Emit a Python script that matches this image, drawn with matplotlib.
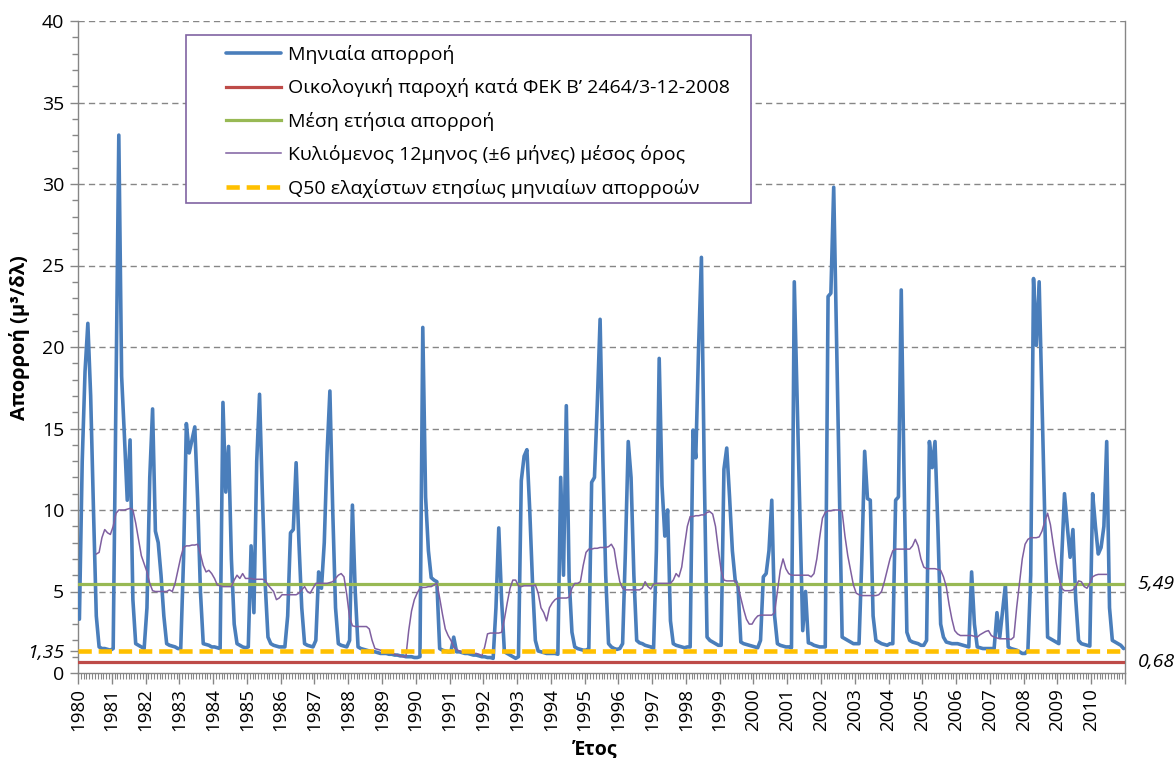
import numpy as np
import matplotlib
matplotlib.use("Agg")
import matplotlib.pyplot as plt
from matplotlib.patches import Rectangle
from matplotlib.ticker import MultipleLocator

plt.rcParams['font.family'] = ['Open Sans', 'DejaVu Sans']

# ---------------- data ----------------
years = list(range(1980, 2011))

# monthly runoff (m3/s), 12 values per year, 1980 ... 2010
monthly_runoff = [
    3.3, 13, 18.5, 21.45, 17, 10, 3.5, 1.6, 1.5, 1.5, 1.45, 1.4,          # 1980
    1.5, 17, 33, 18.2, 14.5, 10.6, 14.3, 4.5, 1.8, 1.7, 1.6, 1.5,         # 1981
    4, 12, 16.2, 8.7, 8.0, 6.0, 3.5, 1.8, 1.7, 1.65, 1.6, 1.5,            # 1982
    1.5, 7, 15.3, 13.5, 14.3, 15.1, 10.7, 5, 1.8, 1.75, 1.7, 1.6,         # 1983
    1.6, 1.55, 1.5, 16.6, 11.1, 13.9, 7, 3, 1.8, 1.7, 1.6, 1.55,          # 1984
    1.6, 7.8, 3.7, 13, 17.1, 11, 5.5, 2.2, 1.8, 1.7, 1.65, 1.6,           # 1985
    1.6, 1.6, 3.5, 8.6, 8.8, 12.9, 8, 4, 1.8, 1.7, 1.65, 1.6,             # 1986
    2.0, 6.2, 5.2, 8, 13.5, 17.3, 10, 4, 1.8, 1.7, 1.65, 1.6,             # 1987
    2.0, 10.3, 5.0, 1.6, 1.5, 1.45, 1.4, 1.35, 1.3, 1.3, 1.25, 1.2,       # 1988
    1.2, 1.2, 1.15, 1.15, 1.1, 1.1, 1.05, 1.05, 1.0, 1.0, 1.0, 0.95,      # 1989
    0.95, 1.0, 21.2, 10.8, 7.5, 5.85, 5.7, 5.6, 1.5, 1.4, 1.35, 1.3,      # 1990
    1.3, 2.2, 1.3, 1.3, 1.25, 1.2, 1.2, 1.15, 1.1, 1.1, 1.05, 1.0,        # 1991
    1.0, 0.95, 0.95, 0.9, 4, 8.9, 4.5, 1.3, 1.2, 1.1, 1.0, 0.9,           # 1992
    1.0, 11.8, 13.3, 13.7, 10, 5.5, 2.0, 1.35, 1.3, 1.25, 1.2, 1.2,       # 1993
    1.2, 1.2, 1.15, 12, 6, 16.4, 5.8, 2.5, 1.6, 1.5, 1.45, 1.4,           # 1994
    1.4, 1.5, 11.7, 12.0, 16.5, 21.7, 13, 6, 1.8, 1.6, 1.5, 1.45,         # 1995
    1.5, 1.8, 7.5, 14.2, 12, 6, 2.0, 1.85, 1.8, 1.7, 1.65, 1.6,           # 1996
    1.5, 7.5, 19.3, 11.5, 8.4, 10, 3.2, 1.8, 1.7, 1.65, 1.6, 1.55,        # 1997
    1.6, 1.6, 14.9, 13.2, 20, 25.5, 12.5, 2.2, 2.0, 1.9, 1.8, 1.7,        # 1998
    1.7, 12.5, 13.8, 10.8, 7.5, 5.7, 5.3, 1.9, 1.8, 1.75, 1.7, 1.65,      # 1999
    1.6, 1.55, 2.0, 5.9, 6.1, 7.5, 10.6, 3.5, 1.8, 1.7, 1.65, 1.6,        # 2000
    1.6, 1.55, 24.0, 16.8, 9.6, 2.6, 5.0, 1.85, 1.8, 1.7, 1.65, 1.6,      # 2001
    1.6, 1.6, 23.1, 23.3, 29.8, 20.5, 11.2, 2.2, 2.1, 2.0, 1.9, 1.8,      # 2002
    1.8, 1.8, 7, 13.6, 10.7, 10.6, 3.5, 2.0, 1.9, 1.8, 1.75, 1.7,         # 2003
    1.8, 1.8, 10.6, 10.8, 23.5, 12, 2.5, 2.0, 1.9, 1.85, 1.8, 1.7,        # 2004
    1.7, 2.0, 14.2, 12.6, 14.2, 9, 3, 2.2, 1.9, 1.85, 1.8, 1.8,           # 2005
    1.8, 1.75, 1.7, 1.65, 1.6, 6.2, 3.0, 1.6, 1.55, 1.5, 1.5, 1.5,        # 2006
    1.5, 1.5, 3.7, 2.2, 3.8, 5.4, 1.6, 1.5, 1.45, 1.4, 1.3, 1.2,          # 2007
    1.2, 1.4, 6, 24.2, 20.1, 24.0, 16.7, 9.5, 2.2, 2.1, 2.0, 1.9,         # 2008
    1.8, 7, 11.0, 9.0, 7.1, 8.8, 4.5, 2.0, 1.8, 1.75, 1.7, 1.65,          # 2009
    11.0, 9.0, 7.3, 7.7, 9, 14.2, 4, 2.0, 1.9, 1.8, 1.7, 1.5,             # 2010
]

# 12-month centred moving average, from July 1980 to June 2010
moving_avg_12m = [
    7.3, 7.4, 8.3, 8.8, 8.6, 8.5, 9.0, 9.8, 10.0, 10.0, 10.0, 10.05,
    10.1, 10.0, 9.2, 8.2, 7.2, 6.7, 6.2, 5.5, 5.05, 5.0, 5.0, 5.0,
    5.0, 5.0, 5.1, 5.0, 5.5, 6.3, 7.1, 7.7, 7.8, 7.8, 7.85, 7.85,
    7.9, 7.3, 6.6, 6.2, 6.3, 6.1, 5.8, 5.4, 5.35, 5.3, 5.3, 5.3,
    5.3, 5.7, 6.0, 5.8, 6.1, 5.8, 5.8, 5.8, 5.75, 5.75, 5.75, 5.75,
    5.7, 5.4, 5.2, 5.0, 4.5, 4.6, 4.8, 4.8, 4.8, 4.8, 4.8, 4.8,
    4.9, 5.1, 5.3, 5.0, 4.9, 5.2, 5.5, 5.5, 5.5, 5.5, 5.5, 5.55,
    5.6, 5.8, 6.0, 6.1, 5.9, 4.8, 3.4, 2.9, 2.85, 2.85, 2.85, 2.85,
    2.85, 2.7, 2.0, 1.5, 1.45, 1.4, 1.35, 1.3, 1.25, 1.2, 1.15, 1.1,
    1.05, 1.0, 1.0, 2.6, 3.8, 4.5, 4.9, 5.2, 5.25, 5.25, 5.3, 5.3,
    5.4, 5.5, 4.6, 3.6, 2.7, 2.3, 2.0, 1.6, 1.45, 1.35, 1.3, 1.3,
    1.25, 1.25, 1.2, 1.2, 1.15, 1.05, 1.6, 2.4, 2.45, 2.45, 2.45, 2.45,
    2.5, 3.3, 4.3, 5.2, 5.7, 5.7, 5.35, 5.3, 5.35, 5.35, 5.35, 5.35,
    5.4, 4.9, 4.0, 3.7, 3.2, 4.0, 4.3, 4.5, 4.6, 4.6, 4.6, 4.6,
    4.65, 5.2, 5.5, 5.5, 5.6, 6.6, 7.4, 7.6, 7.6, 7.65, 7.65, 7.7,
    7.7, 7.7, 7.75, 7.9, 7.6, 6.5, 5.6, 5.2, 5.1, 5.1, 5.1, 5.1,
    5.1, 5.1, 5.2, 5.6, 5.3, 5.15, 5.45, 5.5, 5.5, 5.5, 5.5, 5.5,
    5.5, 5.7, 6.1, 5.9, 6.5, 7.8, 9.0, 9.6, 9.6, 9.65, 9.65, 9.7,
    9.7, 9.85, 9.9, 9.75, 9.0, 7.6, 6.3, 5.7, 5.65, 5.65, 5.65, 5.65,
    5.3, 4.6, 3.9, 3.3, 3.0, 3.0, 3.3, 3.5, 3.55, 3.55, 3.55, 3.55,
    3.55, 3.7, 5.0, 6.3, 7.0, 6.4, 6.1, 6.0, 6.0, 6.0, 6.0, 6.0,
    6.0, 6.0, 5.9, 6.1, 7.0, 8.3, 9.5, 9.85, 9.95, 9.95, 10.0, 10.0,
    10.0, 9.9, 8.4, 7.2, 6.3, 5.4, 4.9, 4.8, 4.75, 4.75, 4.75, 4.75,
    4.75, 4.75, 4.8, 5.0, 5.6, 6.3, 7.0, 7.5, 7.6, 7.6, 7.6, 7.6,
    7.6, 7.6, 7.8, 8.2, 7.8, 7.0, 6.5, 6.4, 6.4, 6.4, 6.4, 6.35,
    6.3, 5.9, 5.3, 4.2, 3.3, 2.6, 2.4, 2.3, 2.3, 2.3, 2.3, 2.3,
    2.25, 2.2, 2.35, 2.45, 2.55, 2.6, 2.3, 2.2, 2.15, 2.1, 2.1, 2.1,
    2.1, 2.05, 2.2, 4.0, 5.5, 7.0, 7.9, 8.2, 8.3, 8.3, 8.3, 8.35,
    8.7, 9.3, 9.8, 9.1, 7.9, 6.8, 5.9, 5.2, 5.05, 5.05, 5.05, 5.1,
    5.3, 5.65, 5.6, 5.3, 5.2, 5.5, 5.9, 6.0, 6.05, 6.05, 6.05, 6.05,
]
ma_half_window = 6

eco_flow = 0.68         # ΦΕΚ Β' 2464/3-12-2008
mean_annual = 5.49      # mean annual runoff
q50_min = 1.35          # Q50 of annual minimum monthly runoff

y_ticks = [0, 1.35, 5, 10, 15, 20, 25, 30, 35, 40]
y_tick_labels = ['0', '1,35', '5', '10', '15', '20', '25', '30', '35', '40']
grid_values = [5, 10, 15, 20, 25, 30, 35, 40]
x_tick_years = list(range(1980, 2012))
x_tick_labels = [str(y) for y in range(1980, 2011)] + ['']

legend_labels = [
    'Μηνιαία απορροή',
    'Οικολογική παροχή κατά ΦΕΚ Β’ 2464/3-12-2008',
    'Μέση ετήσια απορροή',
    'Κυλιόμενος 12μηνος (±6 μήνες) μέσος όρος',
    'Q50 ελαχίστων ετησίως μηνιαίων απορροών',
]
c_blue, c_red, c_green, c_purple, c_yellow = '#4A7EBB', '#BE4B48', '#98B954', '#7F5FA0', '#FFC000'
c_axis = '#868686'

# ---------------- figure ----------------
W, H = 1174, 758
fig = plt.figure(figsize=(W / 100, H / 100), dpi=100)
ax = fig.add_axes([78 / W, 1 - 673 / H, (1125 - 78) / W, (673 - 21) / H])

n = len(monthly_runoff)
x = np.array([y + (m + 0.5) / 12 for y in years for m in range(12)])[:n]
ma_full = np.full(n, np.nan)
ma_full[ma_half_window:ma_half_window + len(moving_avg_12m)] = moving_avg_12m

for v in grid_values:
    ax.axhline(v, color=c_axis, lw=1.0, ls=(0, (4.5, 3)), zorder=1)

l1, = ax.plot(x, monthly_runoff, color=c_blue, lw=2.6, solid_joinstyle='round',
              solid_capstyle='round', zorder=3, label=legend_labels[0])
l2 = ax.axhline(eco_flow, color=c_red, lw=2.3, zorder=4, label=legend_labels[1])
l3 = ax.axhline(mean_annual, color=c_green, lw=2.3, zorder=4, label=legend_labels[2])
l4, = ax.plot(x, ma_full, color=c_purple, lw=1.1, zorder=5, label=legend_labels[3])
l5 = ax.axhline(q50_min, color=c_yellow, lw=3.3, ls=(0, (2.9, 1.5)), zorder=6,
                label=legend_labels[4])

ax.set_xlim(1980, 2011)
ax.set_ylim(0, 40)

ax.set_xticks(x_tick_years)
ax.set_xticklabels(x_tick_labels, rotation=90, fontsize=13.5)
ax.xaxis.set_minor_locator(MultipleLocator(1 / 12))
ax.set_yticks(y_ticks)
ax.set_yticklabels(y_tick_labels, fontsize=14)
ax.yaxis.set_minor_locator(MultipleLocator(1))
ax.get_yticklabels()[1].set_fontstyle('italic')

ax.tick_params(axis='x', which='major', length=8, width=1, color=c_axis, pad=3)
ax.tick_params(axis='x', which='minor', length=4, width=0.8, color=c_axis)
ax.tick_params(axis='y', which='major', length=6, width=1, color=c_axis, pad=4)
ax.tick_params(axis='y', which='minor', length=4, width=1, color=c_axis)

ax.spines['top'].set_visible(False)
for s in ('left', 'bottom', 'right'):
    ax.spines[s].set_color(c_axis)
    ax.spines[s].set_linewidth(1.0)

# right-hand value notes
ax.text(1.012, mean_annual, '5,49', transform=ax.get_yaxis_transform(),
        fontsize=14, fontstyle='italic', va='center', ha='left')
ax.text(1.012, eco_flow, '0,68', transform=ax.get_yaxis_transform(),
        fontsize=14, fontstyle='italic', va='center', ha='left')

fig.text(20 / W, 1 - 338 / H, 'Απορροή (μ³/δλ)', rotation=90, fontsize=14.5,
         fontweight='bold', ha='center', va='center')
fig.text(595 / W, 1 - 749 / H, 'Έτος', fontsize=14, fontweight='bold',
         ha='center', va='center')

# legend box + legend
box = Rectangle((186 / W, 1 - 203 / H), (751 - 186) / W, (203 - 35) / H,
                transform=fig.transFigure, facecolor='white', edgecolor='#8064A2',
                lw=1.2, zorder=20)
fig.patches.append(box)
leg = fig.legend(handles=[l1, l2, l3, l4, l5], loc='upper left',
                 bbox_to_anchor=(226 / W, 1 - 45 / H), frameon=False,
                 fontsize=14, handlelength=2.85, handletextpad=0.35,
                 labelspacing=0.74, borderpad=0, borderaxespad=0)
leg.set_zorder(21)

fig.savefig('out.png', dpi=100)
